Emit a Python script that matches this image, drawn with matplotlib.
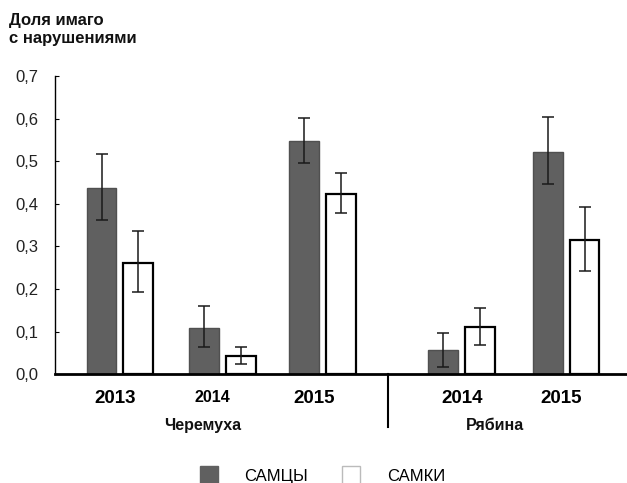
import numpy as np
import matplotlib.pyplot as plt
import matplotlib.transforms as mtransforms
from matplotlib.patches import Patch

plt.rcParams['font.family'] = ['Liberation Sans', 'DejaVu Sans']

# share of imagoes with disorders, by host plant and year
years = ['2013', '2014', '2015', '2014', '2015']
plants = ['Черемуха', 'Рябина']
males = [0.437, 0.108, 0.547, 0.056, 0.521]
males_lo = [0.361, 0.063, 0.495, 0.018, 0.446]
males_hi = [0.517, 0.160, 0.601, 0.098, 0.603]
females = [0.262, 0.043, 0.423, 0.110, 0.315]
females_lo = [0.193, 0.024, 0.378, 0.068, 0.243]
females_hi = [0.337, 0.063, 0.472, 0.155, 0.392]

# layout (x units ~ 102 px)
group_x = np.array([0.0, 1.01, 2.0, 3.37, 4.4])
label_shift = np.array([-0.05, -0.10, -0.08, 0.0, -0.05])
plant_x = [0.82, 3.70]
sep_x = 2.64
w = 0.294
off = 0.181

fig = plt.figure(figsize=(6.27, 4.83), dpi=100)
ax = fig.add_axes([0.0877, 0.225, 0.9123, 0.6178])

m = np.array(males)
f = np.array(females)
m_err = [m - np.array(males_lo), np.array(males_hi) - m]
f_err = [f - np.array(females_lo), np.array(females_hi) - f]

ekw = dict(ecolor='#1a1a1a', elinewidth=1.1, capsize=4, capthick=1.1)
ax.bar(group_x - off, m, w, color='#606060', edgecolor='#505050', linewidth=1,
       yerr=m_err, error_kw=ekw, zorder=2)
ax.bar(group_x + off, f, w, color='white', edgecolor='black', linewidth=1.6,
       yerr=f_err, error_kw=ekw, zorder=2)

ax.set_xlim(-0.64, 5.0)
ax.set_ylim(0, 0.7)
yt = np.arange(0, 0.71, 0.1)
ax.set_yticks(yt)
ax.set_yticklabels([f'{v:.1f}'.replace('.', ',') for v in yt], fontsize=12, color='#222222')
ax.tick_params(axis='y', direction='in', length=3, pad=12)

ax.set_xticks(group_x + label_shift)
ax.set_xticklabels(years, fontweight='bold', fontsize=13.5)
ax.get_xticklabels()[1].set_fontsize(11.5)
ax.tick_params(axis='x', length=0, pad=11)

for s in ['top', 'right']:
    ax.spines[s].set_visible(False)
ax.spines['bottom'].set_linewidth(2)
ax.spines['left'].set_linewidth(1)

trans = mtransforms.blended_transform_factory(ax.transData, ax.transAxes)
ax.plot([sep_x, sep_x], [0, -0.176], transform=trans, color='black', lw=1.5, clip_on=False)
for px, name in zip(plant_x, plants):
    ax.text(px, -0.172, name, transform=trans, ha='center', va='center',
            fontsize=11.5, fontweight='bold', color='#111111')

fig.text(0.014, 0.974, 'Доля имаго\nс нарушениями', ha='left', va='top',
         fontsize=12, fontweight='bold', linespacing=1.25, color='#111111')

handles = [Patch(facecolor='#606060', edgecolor='#606060', label='САМЦЫ'),
           Patch(facecolor='white', edgecolor='#bbbbbb', linewidth=1, label='САМКИ')]
fig.legend(handles=handles, loc='center', bbox_to_anchor=(0.514, 0.015),
           ncol=2, frameon=False, fontsize=12, handlelength=1.1, handleheight=1.4,
           columnspacing=2.0, handletextpad=1.6)

plt.savefig('out.png', dpi=100)
